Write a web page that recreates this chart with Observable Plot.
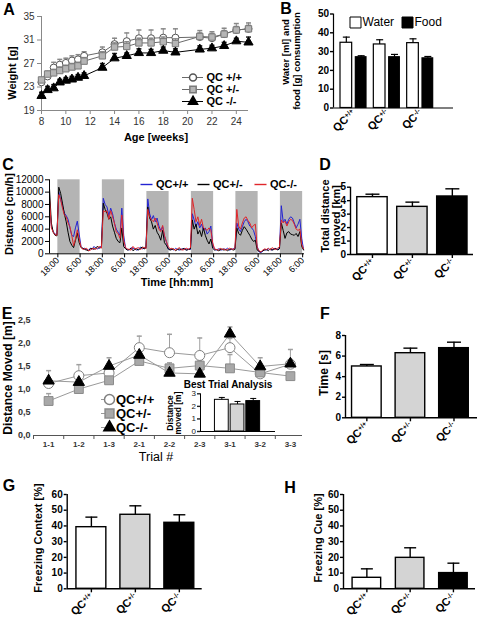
<!DOCTYPE html>
<html><head><meta charset="utf-8">
<script src="https://cdn.jsdelivr.net/npm/d3@7"></script>
<script src="https://cdn.jsdelivr.net/npm/@observablehq/plot@0.6"></script>
<style>
html,body{margin:0;padding:0;background:#fff;}
#fig{position:relative;width:477px;height:621px;overflow:hidden;background:#fff;font-family:"Liberation Sans",Arial,Helvetica,sans-serif;color:#000;}
#fig svg{font-family:"Liberation Sans",Arial,Helvetica,sans-serif;}
#fig svg.pA{font-size:10px;font-weight:normal;color:#888;}
#fig svg.pA text{fill:#333;}
#fig svg.pC{font-size:10px;font-weight:normal;color:#000;}
#fig svg.pC [aria-label^="x-axis"] text{font-size:9px;}
#fig svg.pE{font-size:9px;font-weight:bold;color:#333;}
#fig svg.pE [aria-label^="x-axis"] text{font-size:8px;}
#fig svg.bar{font-size:10px;font-weight:bold;color:#000;}
#fig svg.bar [aria-label^="x-axis"] text{font-size:11px;}
#fig svg.bar [aria-label^="x-axis"] path,#fig svg.bar [aria-label^="x-axis"] line,
#fig svg.bar [aria-label^="y-axis"] path,#fig svg.bar [aria-label^="y-axis"] line{stroke-width:1.4;}
#fig svg.inset{font-size:8px;font-weight:normal;color:#222;}
#fig svg.legA text{font-size:11px;font-weight:bold;fill:#000;}
#fig svg.legB text{font-size:12px;font-weight:normal;fill:#000;}
#fig svg.legC text{font-size:11px;font-weight:bold;fill:#000;}
#fig svg.legE text{font-size:13px;font-weight:bold;fill:#000;}
.lbl{position:absolute;white-space:nowrap;line-height:1;color:#000;}
</style></head>
<body><div id="fig"></div>
<script>
// ---------------- DATA ----------------
const genotypes = ["+/+", "+/-", "-/-"];

// Panel A: body weight
const weeks = [8, 8.5, 9, 9.5, 10, 10.5, 11, 11.5, 13, 14, 15, 16, 17, 18, 19, 21, 22, 23, 24, 25];
const weightWT = [23.8, 24.8, 26.3, 26.8, 27.1, 27.5, 27.7, 28.3, 28.9, 30.3, 30.8, 31.3, 31.3, 31.4, 31.4, 31.5, 31.3, 32.0, 32.7, 32.9];
const weightWTErr = [0.6, 0.6, 0.9, 0.9, 0.8, 0.8, 0.8, 0.7, 0.9, 1.0, 1.4, 1.4, 1.4, 1.5, 1.5, 1.1, 1.1, 1.0, 1.1, 1.0];
const weightHet = [24.2, 25.2, 25.4, 25.8, 26.1, 26.4, 26.6, 27.4, 28.3, 29.8, 29.9, 30.5, 30.5, 30.7, 30.4, 31.6, 31.5, 32.0, 32.7, 32.9];
const weightHetErr = [0.4, 0.5, 0.6, 0.6, 0.6, 0.6, 0.6, 0.6, 0.7, 0.7, 0.8, 0.8, 0.8, 0.8, 0.8, 0.6, 0.6, 0.6, 0.6, 0.6];
const weightKO = [21.5, 22.5, 22.8, 23.8, 24.1, 24.3, 24.6, 24.9, 26.3, 27.9, 28.3, 28.8, 28.8, 29.2, 28.9, 29.4, 29.6, 30.0, 30.8, 30.6];
const weightKOErr = [0.6, 0.6, 0.6, 0.5, 0.5, 0.5, 0.5, 0.5, 0.7, 0.8, 0.5, 0.7, 0.6, 0.6, 0.6, 0.6, 0.5, 0.6, 0.5, 0.9];
const weightTicks = [19, 23, 27, 31, 35];
const weekTicks = [8, 10, 12, 14, 16, 18, 20, 22, 24];
const aNames = ["QC +/+", "QC +/-", "QC -/-"];

// Panel B: water / food consumption
const bLegend = ["Water", "Food"];
const waterMean = [34.7, 33.8, 34.5];
const waterErr = [3.0, 2.5, 2.3];
const foodMean = [27.0, 27.0, 26.4];
const foodErr = [0.8, 1.5, 1.0];
const bYTicks = [0, 10, 20, 30, 40, 50];

// Panel C: hourly activity (cm/h), first value at ~13:30
const cNames = ["QC+/+", "QC+/-", "QC-/-"];
const cWT = [8500, 4500, 3600, 3200, 3100,
  10000, 8800, 7800, 6600, 6200, 5600, 4200, 3000, 2800, 4200, 5300, 3200,
  1200, 800, 900, 700, 600, 900, 700, 1200, 900, 800, 1000, 1300,
  9000, 8000, 7600, 6200, 7400, 6500, 5000, 4000, 3500, 3000, 7400, 3000,
  900, 700, 600, 1000, 800, 900, 600, 700, 1100, 800, 900, 1000,
  8900, 6500, 5500, 6200, 5200, 5800, 4500, 3800, 4400, 2800, 2000, 800,
  700, 800, 600, 900, 700, 600, 800, 700, 900, 600, 800, 700,
  6500, 5500, 4400, 5200, 4200, 4800, 3800, 4200, 3200, 3600, 4500, 1500,
  700, 600, 800, 700, 600, 800, 700, 900, 600, 700, 800, 900,
  5000, 4000, 3600, 4400, 5200, 5600, 5200, 4500, 4200, 3800, 2800, 1200,
  300, 200, 400, 700, 600, 800, 700, 600, 900, 800, 700, 900,
  7800, 5200, 5600, 4800, 5600, 6000, 5800, 5000, 4200, 4800, 5600, 2500,
  700];
const cHet = [10600, 5000, 3500, 3000, 2900,
  10800, 9800, 8200, 6500, 5200, 3500, 2000, 1400, 1000, 2200, 3400, 1800,
  1000, 900, 700, 600, 500, 800, 900, 700, 1000, 1200, 900, 1100,
  8200, 7200, 6600, 5600, 6000, 4500, 3500, 2500, 2000, 1800, 4200, 1200,
  800, 600, 700, 900, 500, 700, 800, 600, 900, 1100, 800, 900,
  7600, 5800, 5200, 4000, 4600, 3500, 3000, 2200, 3800, 1800, 1400, 800,
  600, 700, 800, 500, 700, 800, 600, 900, 700, 600, 700, 800,
  5500, 4000, 4800, 3200, 3800, 2800, 4200, 3000, 2200, 1600, 2400, 900,
  600, 700, 500, 600, 800, 600, 700, 500, 700, 800, 600, 700,
  4200, 3300, 3000, 3800, 4400, 4000, 3500, 3000, 2400, 2000, 2200, 600,
  400, 300, 500, 600, 700, 500, 800, 600, 700, 900, 600, 800,
  5000, 3800, 2500, 3400, 3600, 3200, 3100, 3000, 3300, 2800, 3600, 1200,
  600];
const cKO = [9000, 4200, 3500, 3100, 3000,
  9600, 8800, 7400, 6300, 6000, 5000, 4400, 3000, 1300, 2400, 3900, 2400,
  1100, 700, 800, 900, 500, 600, 800, 900, 700, 1000, 1200, 900,
  7000, 6800, 7000, 5600, 7000, 6000, 5000, 3500, 3300, 2500, 6300, 2200,
  1000, 800, 700, 600, 1200, 800, 900, 1000, 700, 900, 1100, 800,
  7200, 6000, 5500, 5200, 5800, 5000, 4000, 3600, 4600, 3000, 2000, 1200,
  800, 900, 700, 600, 800, 1000, 700, 600, 800, 900, 700, 1000,
  9000, 7200, 5200, 6000, 4600, 5600, 4200, 4000, 3800, 4200, 3800, 1800,
  800, 700, 600, 900, 700, 800, 600, 700, 900, 800, 700, 1000,
  7200, 4500, 4000, 5000, 5800, 6000, 5400, 5000, 4200, 4600, 4800, 1000,
  500, 300, 600, 800, 700, 900, 600, 1000, 800, 700, 900, 1100,
  5500, 5000, 5300, 4500, 5200, 5600, 5400, 4800, 4000, 3800, 4000, 1500,
  800];
const darkStart = [4.5, 28.5, 52.5, 76.5, 100.5, 124.5];
const darkEnd = [16.5, 40.5, 64.5, 88.5, 112.5, 136.5];
const cTickHours = [4.5, 16.5, 28.5, 40.5, 52.5, 64.5, 76.5, 88.5, 100.5, 112.5, 124.5, 136.5];
const cTickLabels = ["18:00", "6:00", "18:00", "6:00", "18:00", "6:00", "18:00", "6:00", "18:00", "6:00", "18:00", "6:00"];
const cYTicks = [0, 2000, 4000, 6000, 8000, 10000, 12000];

// Panel D: total distance moved (km)
const distMean = [4.26, 3.54, 4.31];
const distErr = [0.22, 0.35, 0.57];

// Panel E: water maze distance (m)
const trials = ["1-1", "1-2", "1-3", "2-1", "2-2", "2-3", "3-1", "3-2", "3-3"];
const eNames = ["QC+/+", "QC+/-", "QC-/-"];
const eWT = [1.13, 1.30, 1.36, 1.91, 1.80, 1.74, 1.91, 1.34, 1.55];
const eWTErr = [0.05, 0.24, 0.10, 0.25, 0.40, 0.38, 0.20, 0.05, 0.10];
const eHet = [0.75, 1.01, 1.20, 1.62, 1.46, 1.52, 1.46, 1.37, 1.29];
const eHetErr = [0.16, 0.10, 0.08, 0.08, 0.12, 0.10, 0.30, 0.05, 0.06];
const eKO = [1.19, 1.16, 1.51, 1.75, 1.36, 1.34, 2.21, 1.50, 1.56];
const eKOErr = [0.22, 0.12, 0.18, 0.10, 0.10, 0.06, 0.15, 0.19, 0.31];
const eYTicks = [0, 0.5, 1, 1.5, 2, 2.5];
const eYTickLabels = ["0,0", "0,5", "1,0", "1,5", "2,0", "2,5"];
const bestMean = [2.52, 2.15, 2.42];
const bestErr = [0.19, 0.24, 0.21];

// Panel F: time (s)
const timeMean = [4.99, 6.28, 6.77];
const timeErr = [0.19, 0.49, 0.58];

// Panel G / H: freezing (%)
const ctxMean = [39.2, 47.1, 42.0];
const ctxErr = [6.4, 5.7, 5.1];
const cueMean = [7.0, 19.7, 10.0];
const cueErr = [5.7, 6.4, 6.3];
const pctTicks = [0, 10, 20, 30, 40, 50, 60];

// ---------------- HELPERS ----------------
const FONT = '"Liberation Sans", Arial, Helvetica, sans-serif';
const fig = document.getElementById("fig");
const barFills = ["white", "#d4d4d4", "black"];
const capSymbol = {draw(ctx, size) { const w = Math.sqrt(size / Math.PI); ctx.moveTo(-w, 0); ctx.lineTo(w, 0); }};

function mount(svg, cls, left, top, bg) {
  cls.split(" ").forEach(c => svg.classList.add(c));
  svg.style.position = "absolute";
  svg.style.left = left + "px";
  svg.style.top = top + "px";
  svg.style.overflow = "visible";
  svg.style.maxWidth = "none";
  svg.style.background = bg || "transparent";
  fig.appendChild(svg);
  return svg;
}
function supLabels(svg) {
  svg.querySelectorAll('[aria-label^="x-axis"] text').forEach(t => {
    const s = t.textContent;
    if (!s.startsWith("QC")) return;
    t.textContent = "QC";
    const ts = document.createElementNS("http://www.w3.org/2000/svg", "tspan");
    ts.setAttribute("dy", "-0.45em");
    ts.setAttribute("font-size", "0.62em");
    ts.textContent = s.slice(2);
    t.appendChild(ts);
  });
}
function txt(s, cx, cy, size, weight = "bold", rot = 0) {
  const d = document.createElement("div");
  d.className = "lbl";
  d.textContent = s;
  d.style.left = cx + "px";
  d.style.top = cy + "px";
  d.style.font = `${weight} ${size}px ${FONT}`;
  d.style.lineHeight = "1";
  d.style.transform = `translate(-50%,-50%) rotate(${rot}deg)`;
  fig.appendChild(d);
}
function barPanel({cls, left, top, width, height, ml, mr, mt, mb, xDomain, yDomain, yTicks, means, errs, half, cap, sw = 1.4, tickSizeY = 3, cats = true}) {
  const data = genotypes.map((g, i) => ({i, m: means[i], e: errs[i]}));
  const svg = Plot.plot({
    width, height, marginLeft: ml, marginRight: mr, marginTop: mt, marginBottom: mb,
    color: {type: "identity"},
    x: {domain: xDomain, ticks: cats ? [0, 1, 2] : [], tickFormat: i => "QC" + genotypes[i], tickRotate: -45, tickSize: cats ? 4 : 0, tickPadding: 2, label: null},
    y: {domain: yDomain, ticks: yTicks, tickFormat: v => String(v), tickSize: tickSizeY, tickPadding: 1.5, label: null},
    marks: [
      Plot.rect(data, {x1: d => d.i - half, x2: d => d.i + half, y1: () => 0, y2: "m", fill: d => barFills[d.i], stroke: "black", strokeWidth: sw}),
      Plot.ruleX(data, {x: "i", y1: "m", y2: d => d.m + d.e, stroke: "black", strokeWidth: sw}),
      Plot.dot(data, {x: "i", y: d => d.m + d.e, symbol: capSymbol, r: cap, stroke: "black", strokeWidth: sw, fill: "none"}),
      Plot.ruleX([xDomain[0]], {stroke: "black", strokeWidth: sw}),
      Plot.ruleY([0], {stroke: "black", strokeWidth: sw})
    ]
  });
  mount(svg, cls, left, top);
  supLabels(svg);
  return svg;
}

// ---------------- PANEL A ----------------
const aSeries = [
  {name: aNames[0], mean: weightWT, err: weightWTErr, symbol: "circle", r: 3.5, fill: "white", stroke: "#555", line: "#6a6a6a", errc: "#888"},
  {name: aNames[1], mean: weightHet, err: weightHetErr, symbol: "square", r: 3.6, fill: "#b5b5b5", stroke: "#7a7a7a", line: "#6a6a6a", errc: "#888"},
  {name: aNames[2], mean: weightKO, err: weightKOErr, symbol: "triangle", r: 3.4, fill: "black", stroke: "black", line: "black", errc: "#222"}
];
const aMarks = [];
aSeries.forEach(s => {
  const d = weeks.map((w, i) => ({w, m: s.mean[i], e: s.err[i]}));
  aMarks.push(
    Plot.ruleX(d, {x: "w", y1: "m", y2: v => v.m + v.e, stroke: s.errc, strokeWidth: 1}),
    Plot.dot(d, {x: "w", y: v => v.m + v.e, symbol: capSymbol, r: 2.5, stroke: s.errc, fill: "none"}),
    Plot.line(d, {x: "w", y: "m", stroke: s.line, strokeWidth: 1}),
    Plot.dot(d, {x: "w", y: "m", symbol: s.symbol, r: s.r, fill: s.fill, stroke: s.stroke, strokeWidth: 1})
  );
});
mount(Plot.plot({
  width: 262, height: 150, marginLeft: 41, marginRight: 14, marginTop: 16, marginBottom: 40,
  x: {domain: [8, 25], ticks: weekTicks, tickSize: 4, tickPadding: 3, label: null},
  y: {domain: [19, 35], ticks: weightTicks, tickSize: 4, tickPadding: 3, label: null},
  marks: [Plot.ruleX([8], {stroke: "#888"}), Plot.ruleY([19], {stroke: "#888"}), ...aMarks]
}), "pA", 0, 0);

// legend A
const legAMarks = [];
aSeries.forEach(s => {
  legAMarks.push(
    Plot.ruleY([s.name], {y: d => d, x1: () => 0, x2: () => 1, stroke: s.line}),
    Plot.dot([s.name], {x: () => 0.5, y: d => d, symbol: s.symbol, r: s.r, fill: s.fill, stroke: s.stroke}),
    Plot.text([s.name], {x: () => 1, y: d => d, text: d => d, dx: 3, textAnchor: "start"})
  );
});
mount(Plot.plot({
  width: 80, height: 40, margin: 0,
  x: {domain: [0, 1], range: [7, 28], axis: null},
  y: {type: "point", domain: aNames, range: [8, 33], padding: 0, axis: null},
  marks: legAMarks
}), "legA", 175, 68);

// ---------------- PANEL B ----------------
const bData = genotypes.map((g, i) => ({i, water: waterMean[i], waterE: waterErr[i], food: foodMean[i], foodE: foodErr[i]}));
const svgB = Plot.plot({
  width: 207, height: 150, marginLeft: 63, marginRight: 24, marginTop: 13.5, marginBottom: 42.5,
  x: {domain: [-0.6, 3.0], ticks: [0, 1, 2], tickFormat: i => "QC" + genotypes[i], tickRotate: -45, tickSize: 0, tickPadding: 3, label: null},
  y: {domain: [0, 50], ticks: bYTicks, tickSize: 3, tickPadding: 1.5, label: null},
  marks: [
    Plot.rect(bData, {x1: d => d.i - 0.39, x2: d => d.i - 0.04, y1: () => 0, y2: "water", fill: "white", stroke: "black", strokeWidth: 1.2}),
    Plot.rect(bData, {x1: d => d.i + 0.07, x2: d => d.i + 0.39, y1: () => 0, y2: "food", fill: "black", stroke: "black", strokeWidth: 1.2}),
    Plot.ruleX(bData, {x: d => d.i - 0.215, y1: "water", y2: d => d.water + d.waterE, stroke: "black", strokeWidth: 1.2}),
    Plot.dot(bData, {x: d => d.i - 0.215, y: d => d.water + d.waterE, symbol: capSymbol, r: 3.5, stroke: "black", strokeWidth: 1.2, fill: "none"}),
    Plot.ruleX(bData, {x: d => d.i + 0.23, y1: "food", y2: d => d.food + d.foodE, stroke: "black", strokeWidth: 1.2}),
    Plot.dot(bData, {x: d => d.i + 0.23, y: d => d.food + d.foodE, symbol: capSymbol, r: 3.5, stroke: "black", strokeWidth: 1.2, fill: "none"}),
    Plot.ruleX([-0.6], {stroke: "black", strokeWidth: 1.2}),
    Plot.ruleY([0], {stroke: "black", strokeWidth: 1.2})
  ]
});
mount(svgB, "bar pB", 270, 0);
supLabels(svgB);

mount(Plot.plot({
  width: 110, height: 20, margin: 0,
  color: {type: "identity"},
  x: {type: "point", domain: bLegend, range: [14.5, 67], padding: 0, axis: null},
  marks: [
    Plot.dot(bLegend, {x: d => d, symbol: "square", r: 6.2, fill: d => (d === "Water" ? "white" : "black"), stroke: "black", strokeWidth: 1}),
    Plot.text(bLegend, {x: d => d, text: d => d, dx: 7, textAnchor: "start"})
  ]
}), "legB", 340, 12);

// ---------------- PANEL C ----------------
const cSeries = [
  {name: cNames[0], v: cWT, color: "#2323d2"},
  {name: cNames[1], v: cHet, color: "#000000"},
  {name: cNames[2], v: cKO, color: "#e0262b"}
];
mount(Plot.plot({
  width: 320, height: 150, marginLeft: 49, marginRight: 16, marginTop: 29.3, marginBottom: 46.7,
  x: {domain: [0, 137.5], ticks: cTickHours, tickFormat: h => cTickLabels[cTickHours.indexOf(h)], tickRotate: -45, tickSize: 4, tickPadding: 1, label: null},
  y: {domain: [0, 12000], ticks: cYTicks, tickFormat: v => String(v), tickSize: 4, tickPadding: 2, label: null},
  marks: [
    Plot.rect(darkStart, {x1: d => d, x2: (d, i) => darkEnd[i], fill: "#b4b4b4"}),
    ...cSeries.map(s => Plot.line(s.v, {x: (d, i) => i, y: d => d, stroke: s.color, strokeWidth: 1})),
    Plot.ruleX([0], {stroke: "#000"}),
    Plot.ruleY([0], {stroke: "#000"})
  ]
}), "pC", 0, 150);

mount(Plot.plot({
  width: 168, height: 14, margin: 0,
  x: {type: "point", domain: cNames, range: [9, 123.5], padding: 0, axis: null},
  marks: [
    ...cSeries.map(s => Plot.dot([s.name], {x: d => d, symbol: capSymbol, r: 6, stroke: s.color, strokeWidth: 1.4, fill: "none"})),
    Plot.text(cNames, {x: d => d, text: d => d, dx: 9.5, textAnchor: "start"})
  ]
}), "legC", 137, 177, "white");

// ---------------- PANEL D ----------------
barPanel({cls: "bar pD", left: 320, top: 150, width: 157, height: 150, ml: 30, mr: 4, mt: 36.7, mb: 46,
  xDomain: [-0.55, 2.53], yDomain: [0, 5], yTicks: [0, 1, 2, 3, 4, 5], means: distMean, errs: distErr, half: 0.38, cap: 7});

// ---------------- PANEL E ----------------
const eIdx = trials.map((t, i) => i);
const eSeries = [
  {name: eNames[0], mean: eWT, err: eWTErr, symbol: "circle", r: 5, fill: "white", stroke: "#808080"},
  {name: eNames[1], mean: eHet, err: eHetErr, symbol: "square", r: 5, fill: "#a8a8a8", stroke: "#8a8a8a"},
  {name: eNames[2], mean: eKO, err: eKOErr, symbol: "triangle", r: 4.2, fill: "black", stroke: "black"}
];
const eData = eSeries.map(s => trials.map((t, i) => ({i, m: s.mean[i], e: s.err[i]})));
mount(Plot.plot({
  width: 320, height: 170, marginLeft: 33, marginRight: 18, marginTop: 20, marginBottom: 35,
  x: {domain: [-0.5, 8.4], ticks: eIdx, tickFormat: i => trials[i], tickSize: 0, tickPadding: 6, label: null},
  y: {domain: [0, 2.5], ticks: eYTicks, tickFormat: v => eYTickLabels[eYTicks.indexOf(v)], tickSize: 0, tickPadding: 3, label: null},
  marks: [
    Plot.ruleY([0], {stroke: "#555"}),
    Plot.ruleX(eIdx.map(i => i - 0.5), {insetTop: 115, insetBottom: -4, stroke: "#555"}),
    ...eData.map(d => Plot.line(d, {x: "i", y: "m", stroke: "#9a9a9a", strokeWidth: 1})),
    ...eData.map(d => Plot.ruleX(d, {x: "i", y1: "m", y2: v => v.m + v.e, stroke: "#a0a0a0", strokeWidth: 1})),
    ...eData.map(d => Plot.dot(d, {x: "i", y: v => v.m + v.e, symbol: capSymbol, r: 2.5, stroke: "#a0a0a0", fill: "none"})),
    ...eSeries.map((s, k) => Plot.dot(eData[k], {x: "i", y: "m", symbol: s.symbol, r: s.r, fill: s.fill, stroke: s.stroke, strokeWidth: 1}))
  ]
}), "pE", 0, 300);

const legEMarks = [];
eSeries.forEach(s => {
  legEMarks.push(
    Plot.ruleY([s.name], {y: d => d, x1: () => 0, x2: () => 1, stroke: "#999"}),
    Plot.dot([s.name], {x: () => 1, y: d => d, symbol: s.symbol, r: s.r, fill: s.fill, stroke: s.stroke}),
    Plot.text([s.name], {x: () => 1, y: d => d, text: d => d, dx: 6.5, textAnchor: "start"})
  );
});
mount(Plot.plot({
  width: 70, height: 46, margin: 0,
  x: {domain: [0, 1], range: [6, 14], axis: null},
  y: {type: "point", domain: eNames, range: [9, 37], padding: 0, axis: null},
  marks: legEMarks
}), "legE", 95, 390);

barPanel({cls: "bar inset", left: 160, top: 380, width: 120, height: 60, ml: 40, mr: 5, mt: 13.3, mb: 9,
  xDomain: [-1.36, 3.42], yDomain: [0, 3], yTicks: [0, 1, 2, 3], means: bestMean, errs: bestErr, half: 0.44, cap: 3, sw: 1, tickSizeY: 3, cats: false});

// ---------------- PANEL F / G / H ----------------
barPanel({cls: "bar pF", left: 320, top: 300, width: 157, height: 170, ml: 25, mr: 0, mt: 35, mb: 52.7,
  xDomain: [-0.49, 2.54], yDomain: [0, 8], yTicks: [0, 2, 4, 6, 8], means: timeMean, errs: timeErr, half: 0.34, cap: 7});
barPanel({cls: "bar pG", left: 0, top: 470, width: 237, height: 151, ml: 66.7, mr: 35.3, mt: 24, mb: 32.7,
  xDomain: [-0.55, 2.52], yDomain: [0, 60], yTicks: pctTicks, means: ctxMean, errs: ctxErr, half: 0.34, cap: 6});
barPanel({cls: "bar pH", left: 237, top: 470, width: 240, height: 151, ml: 106, mr: 2, mt: 24, mb: 32.7,
  xDomain: [-0.54, 2.51], yDomain: [0, 60], yTicks: pctTicks, means: cueMean, errs: cueErr, half: 0.33, cap: 6});

// ---------------- TEXT LABELS ----------------
txt("Weight [g]", 12, 73, 11, "bold", -90);
txt("Age [weeks]", 156, 137, 11);
txt("Water [ml] and", 286, 52, 9.5, "bold", -90);
txt("food [g] consumption", 297, 61, 9.5, "bold", -90);
txt("Distance [cm/h]", 9, 214, 11, "bold", -90);
txt("Time [hh:mm]", 177, 282, 11);
txt("Total distance", 325, 216, 11, "bold", -90);
txt("moved [km]", 336, 216, 11, "bold", -90);
txt("Distance Moved [m]", 8, 378, 12, "bold", -90);
txt("Trial #", 156, 457, 12.5, "normal");
txt("Best Trial Analysis", 228, 385, 10);
txt("Distance", 170, 412.5, 8.5, "bold", -90);
txt("moved [m]", 178, 412.5, 8.5, "bold", -90);
txt("Time [s]", 324, 373, 12, "bold", -90);
txt("Freezing Context [%]", 38, 538, 11, "bold", -90);
txt("Freezing Cue [%]", 318, 538, 11, "bold", -90);
// panel letters
txt("A", 9, 9.5, 16);
txt("B", 286, 9, 16);
txt("C", 8, 165, 16);
txt("D", 325, 165, 16);
txt("E", 7, 314, 16);
txt("F", 325, 314, 16);
txt("G", 9, 486, 16);
txt("H", 290, 488, 16);
</script>
</body></html>
